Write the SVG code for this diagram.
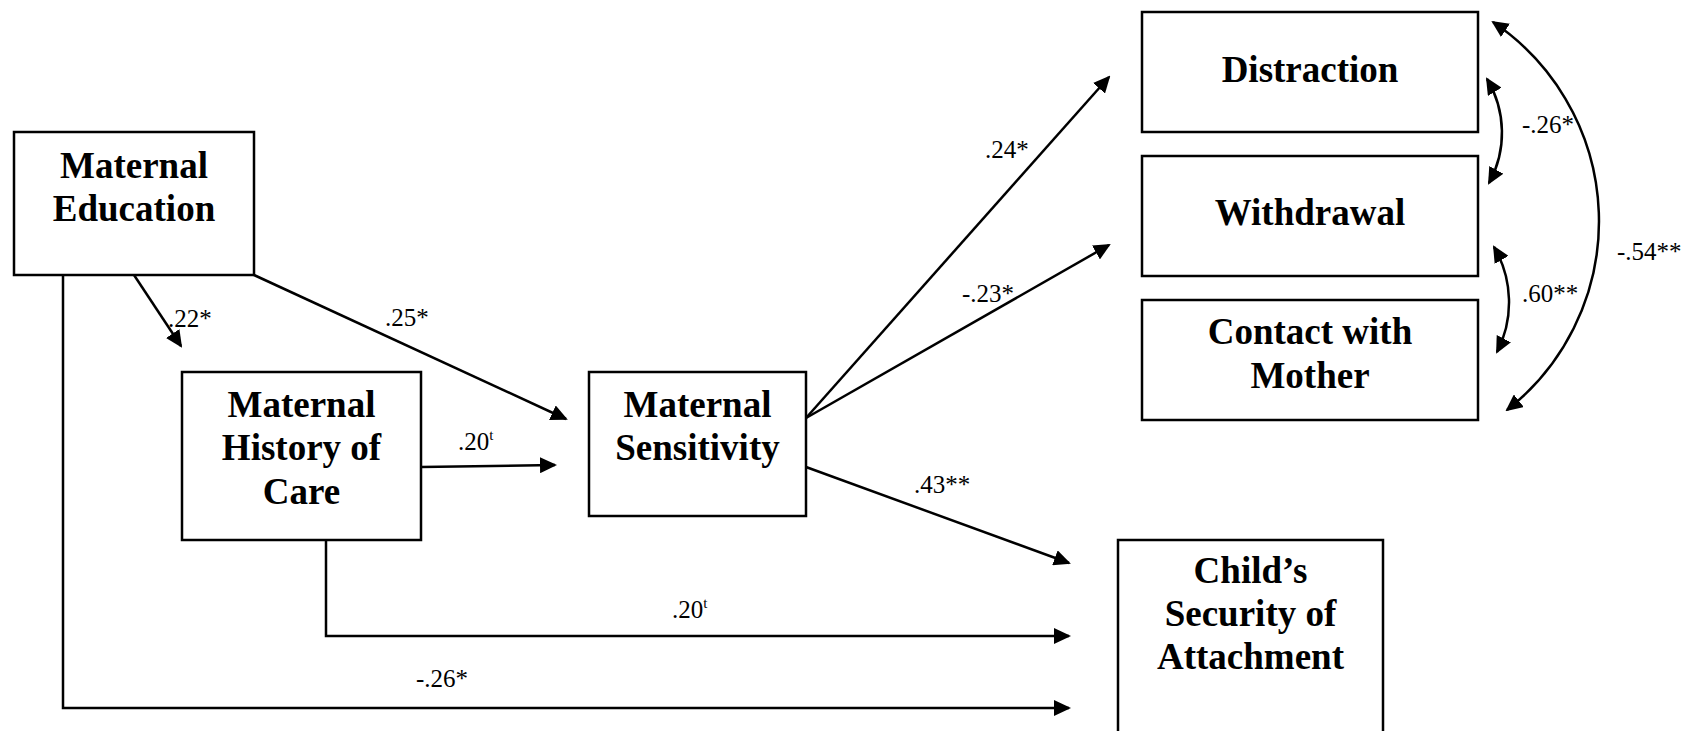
<svg xmlns="http://www.w3.org/2000/svg" width="1707" height="731" viewBox="0 0 1707 731">
<style>
.box{fill:#fff;stroke:#000;stroke-width:2.5}
.nt{font-family:"Liberation Serif","Times New Roman",serif;font-weight:bold;font-size:37px;text-anchor:middle;fill:#000}
.lb{font-family:"Liberation Serif","Times New Roman",serif;font-size:25px;fill:#000}
.sup{font-size:15px}
.ln{fill:none;stroke:#000;stroke-width:2.5}
.arr{marker-end:url(#ah)}
.dbl{marker-start:url(#ah);marker-end:url(#ah)}
</style>
<defs>
<marker id="ah" markerUnits="userSpaceOnUse" viewBox="0 0 17 16" markerWidth="17" markerHeight="16" refX="15" refY="8" orient="auto-start-reverse">
<path d="M0,0 L17,8 L0,16 z" fill="#000"/>
</marker>
</defs>
<rect width="1707" height="731" fill="#fff"/>

<g id="connectors">
<line class="ln arr" x1="134" y1="275" x2="181" y2="346"/>
<line class="ln arr" x1="254" y1="275" x2="566" y2="419"/>
<line class="ln arr" x1="421" y1="467" x2="555" y2="465"/>
<line class="ln arr" x1="806" y1="418" x2="1109" y2="77"/>
<line class="ln arr" x1="806" y1="418" x2="1109" y2="245"/>
<line class="ln arr" x1="806" y1="467" x2="1069" y2="563"/>
<polyline class="ln arr" points="326,540 326,636 1069,636"/>
<polyline class="ln arr" points="63,275 63,708 1069,708"/>
<path class="ln dbl" d="M1487,79 A104,104 0 0 1 1489,183"/>
<path class="ln dbl" d="M1494,247 A109,109 0 0 1 1497,352"/>
<path class="ln dbl" d="M1493,22 A240,240 0 0 1 1507,410"/>
<text class="lb" x="168" y="327">.22*</text>
<text class="lb" x="385" y="326">.25*</text>
<text class="lb" x="458" y="450">.20<tspan class="sup" dy="-10">t</tspan></text>
<text class="lb" x="985" y="158">.24*</text>
<text class="lb" x="962" y="302">-.23*</text>
<text class="lb" x="914" y="493">.43**</text>
<text class="lb" x="672" y="618">.20<tspan class="sup" dy="-10">t</tspan></text>
<text class="lb" x="416" y="687">-.26*</text>
<text class="lb" x="1522" y="133">-.26*</text>
<text class="lb" x="1522" y="302">.60**</text>
<text class="lb" x="1617" y="260">-.54**</text>
</g>

<g id="maternal-education">
<rect class="box" x="14" y="132" width="240" height="143"/>
<text class="nt" x="134" y="178">Maternal</text>
<text class="nt" x="134" y="221">Education</text>
</g>

<g id="maternal-history">
<rect class="box" x="182" y="372" width="239" height="168"/>
<text class="nt" x="301.5" y="417">Maternal</text>
<text class="nt" x="301.5" y="460">History of</text>
<text class="nt" x="301.5" y="504">Care</text>
</g>

<g id="maternal-sensitivity">
<rect class="box" x="589" y="372" width="217" height="144"/>
<text class="nt" x="697.5" y="417">Maternal</text>
<text class="nt" x="697.5" y="460">Sensitivity</text>
</g>

<g id="distraction">
<rect class="box" x="1142" y="12" width="336" height="120"/>
<text class="nt" x="1310" y="82">Distraction</text>
</g>

<g id="withdrawal">
<rect class="box" x="1142" y="156" width="336" height="120"/>
<text class="nt" x="1310" y="225">Withdrawal</text>
</g>

<g id="contact-with-mother">
<rect class="box" x="1142" y="300" width="336" height="120"/>
<text class="nt" x="1310" y="344">Contact with</text>
<text class="nt" x="1310" y="388">Mother</text>
</g>

<g id="childs-security">
<rect class="box" x="1118" y="540" width="265" height="220"/>
<text class="nt" x="1250.5" y="583">Child’s</text>
<text class="nt" x="1250.5" y="626">Security of</text>
<text class="nt" x="1250.5" y="669">Attachment</text>
</g>
</svg>
